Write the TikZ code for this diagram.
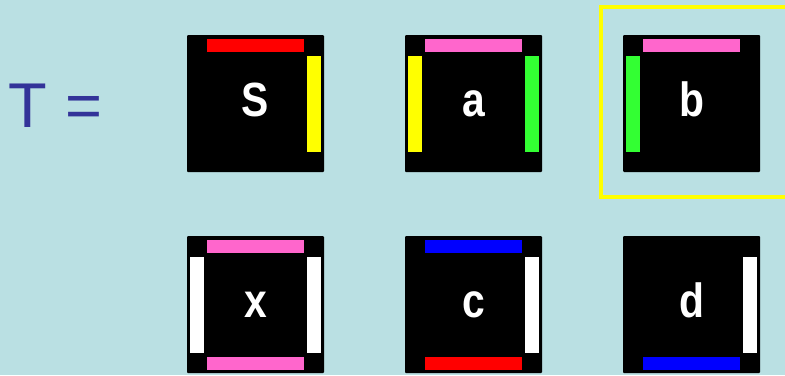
\documentclass[tikz,border=0pt]{standalone}
\usepackage{fontspec}
\setmainfont{Liberation Sans}
\newfontfamily\tilefont[FakeStretch=0.85]{Liberation Sans}
\usepackage{xcolor}
\usepackage{tikz}
\usetikzlibrary{positioning, calc}

\definecolor{bgblue}{RGB}{186,224,227}
\definecolor{eqblue}{RGB}{51,51,153}
\definecolor{barpink}{RGB}{255,102,204}
\definecolor{bargreen}{RGB}{51,255,51}
\definecolor{barblue}{RGB}{0,0,255}
\definecolor{barred}{RGB}{255,0,0}
\definecolor{baryellow}{RGB}{255,255,0}

\begin{document}
\begin{tikzpicture}[node distance=6.54cm]
    \tikzstyle{tile} = [rectangle, rounded corners=0.03cm, minimum size=4.11cm, inner sep=0pt, outer sep=0pt, text height=0.78cm, text depth=0pt, fill=black, text=white, font=\fontsize{41}{41}\tilefont\bfseries]
    \tikzstyle{hbar} = [rectangle, minimum width=2.91cm, minimum height=0.39cm, inner sep=0pt, outer sep=0pt]
    \tikzstyle{vbar} = [rectangle, minimum width=0.42cm, minimum height=2.88cm, inner sep=0pt, outer sep=0pt]

    \fill[bgblue] (0,0) rectangle (23.55,-11.25);
    \useasboundingbox (0,0) rectangle (23.55,-11.25);

    \node (S) [tile] at (7.665,-3.105) {S};
    \node (a) [tile, right of=S] {a};
    \node (b) [tile, right of=a] {b};
    \node (x) [tile, below of=S, yshift=0.51cm] {x};
    \node (c) [tile, right of=x] {c};
    \node (d) [tile, right of=c] {d};

    \node (eq) [left of=S, xshift=0.54cm, yshift=-0.06cm, text=eqblue, font=\fontsize{54}{54}\selectfont] {T =};

    % edges of each tile
    \node (S-top) [hbar, fill=barred, below=0.12cm of S.north] {};
    \node (S-right) [vbar, fill=baryellow, left=0.09cm of S.east] {};

    \node (a-top) [hbar, fill=barpink, below=0.12cm of a.north] {};
    \node (a-left) [vbar, fill=baryellow, right=0.09cm of a.west] {};
    \node (a-right) [vbar, fill=bargreen, left=0.09cm of a.east] {};

    \node (b-top) [hbar, fill=barpink, below=0.12cm of b.north] {};
    \node (b-left) [vbar, fill=bargreen, right=0.09cm of b.west] {};

    \node (x-top) [hbar, fill=barpink, below=0.12cm of x.north] {};
    \node (x-bottom) [hbar, fill=barpink, above=0.09cm of x.south] {};
    \node (x-left) [vbar, fill=white, right=0.09cm of x.west] {};
    \node (x-right) [vbar, fill=white, left=0.09cm of x.east] {};

    \node (c-top) [hbar, fill=barblue, below=0.12cm of c.north] {};
    \node (c-bottom) [hbar, fill=barred, above=0.09cm of c.south] {};
    \node (c-right) [vbar, fill=white, left=0.09cm of c.east] {};

    \node (d-bottom) [hbar, fill=barblue, above=0.09cm of d.south] {};
    \node (d-right) [vbar, fill=white, left=0.09cm of d.east] {};

    \draw [baryellow, line width=0.12cm] ($(b.north west)+(-0.66,0.84)$) rectangle ($(b.south east)+(0.93,-0.75)$);
\end{tikzpicture}
\end{document}
